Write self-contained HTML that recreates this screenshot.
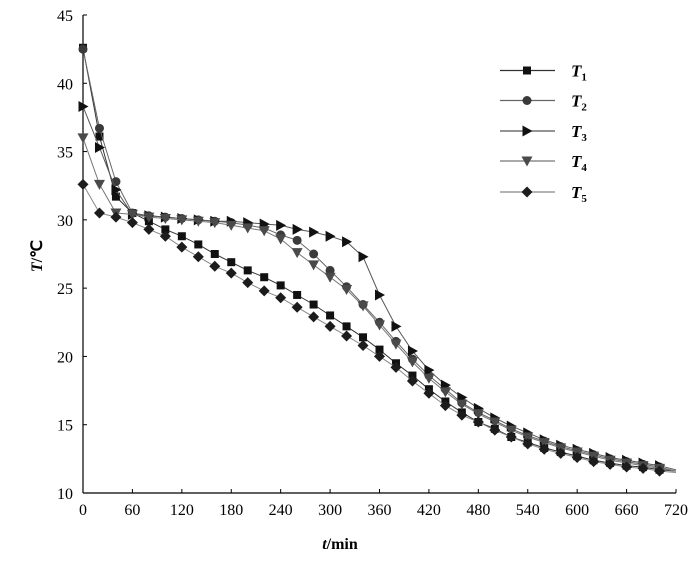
<!DOCTYPE html>
<html><head><meta charset="utf-8"><style>
body{margin:0;background:#fff;}
svg{display:block;font-family:"Liberation Serif",serif;}
</style></head><body>
<svg id="chart" width="700" height="568" viewBox="0 0 700 568" xmlns="http://www.w3.org/2000/svg">
<g id="axes"></g>
<g id="series"></g>
<g id="legend"></g>
<text transform="translate(42,256) rotate(-90)" text-anchor="middle" font-size="16" font-weight="bold"><tspan font-style="italic">T</tspan>/℃</text>
<text x="340" y="549" text-anchor="middle" font-size="16" font-weight="bold"><tspan font-style="italic">t</tspan>/min</text>
</svg>
<script>
const times = [0,20,40,60,80,100,120,140,160,180,200,220,240,260,280,300,320,340,360,380,400,420,440,460,480,500,520,540,560,580,600,620,640,660,680,700,720];
const t1 = [42.6,36.1,31.7,30.5,29.9,29.3,28.8,28.2,27.5,26.9,26.3,25.8,25.2,24.5,23.8,23.0,22.2,21.4,20.5,19.5,18.6,17.6,16.7,15.9,15.2,14.7,14.1,13.7,13.3,13.0,12.7,12.4,12.2,12.0,11.9,11.7,11.6];
const t2 = [42.5,36.7,32.8,30.5,30.3,30.2,30.1,30.0,29.9,29.8,29.6,29.4,28.9,28.5,27.5,26.3,25.1,23.8,22.5,21.1,19.8,18.6,17.6,16.6,15.9,15.3,14.7,14.2,13.8,13.4,13.1,12.8,12.5,12.3,12.1,11.9,11.6];
const t3 = [38.3,35.3,32.2,30.4,30.3,30.2,30.1,30.0,29.9,29.9,29.8,29.7,29.6,29.3,29.1,28.8,28.4,27.3,24.5,22.2,20.4,19.0,17.9,17.0,16.2,15.5,14.9,14.4,13.9,13.5,13.2,12.9,12.6,12.4,12.2,12.0,11.7];
const t4 = [36.0,32.6,30.5,30.4,30.2,30.1,30.0,29.9,29.8,29.6,29.4,29.2,28.6,27.6,26.7,25.8,24.9,23.7,22.3,20.9,19.6,18.4,17.4,16.5,15.8,15.2,14.6,14.1,13.7,13.3,13.0,12.7,12.4,12.2,12.0,11.8,11.6];
const t5 = [32.6,30.5,30.2,29.8,29.3,28.8,28.0,27.3,26.6,26.1,25.4,24.8,24.3,23.6,22.9,22.2,21.5,20.8,20.0,19.2,18.2,17.3,16.4,15.7,15.2,14.6,14.1,13.6,13.2,12.9,12.6,12.3,12.1,11.9,11.8,11.6,11.5];
const xTicks = [0,60,120,180,240,300,360,420,480,540,600,660,720];
const yTicks = [10,15,20,25,30,35,40,45];
const seriesNames = ["T1","T2","T3","T4","T5"];

const NS="http://www.w3.org/2000/svg";
const X0=83,X1=676,Y0=493,Y1=15;
const xs=t=>X0+(t-0)/(720-0)*(X1-X0);
const ys=v=>Y0-(v-10)/(45-10)*(Y0-Y1);
function mk(tag,attrs,parent){const e=document.createElementNS(NS,tag);for(const k in attrs)e.setAttribute(k,attrs[k]);parent.appendChild(e);return e;}
const axes=document.getElementById('axes');
let a=mk('line',{x1:X0,y1:Y0,x2:X1,y2:Y0,stroke:'#000','stroke-width':1.2},axes);


a=mk('line',{x1:X0,y1:Y0,x2:X0,y2:Y1,stroke:'#000','stroke-width':1.2},axes);


xTicks.forEach(t=>{
  const x=xs(t);
  mk('line',{x1:x,y1:Y0,x2:x,y2:Y0-4,stroke:'#000'},axes);
  const tx=mk('text',{x:x,y:Y0+22,'text-anchor':'middle','font-size':16},axes);
  tx.textContent=t;
  
  
});
yTicks.forEach(v=>{
  const y=ys(v);
  mk('line',{x1:X0,y1:y,x2:X0+4,y2:y,stroke:'#000'},axes);
  const tx=mk('text',{x:X0-10,y:y+6,'text-anchor':'end','font-size':16},axes);
  tx.textContent=v;
  
  
});
function marker(type,x,y,col,parent){
  let e;
  if(type==='sq') e=mk('rect',{x:x-4,y:y-4,width:8,height:8,fill:col},parent);
  else if(type==='ci') e=mk('circle',{cx:x,cy:y,r:4.5,fill:col},parent);
  else if(type==='rt') e=mk('polygon',{points:`${x-4.5},${y-5.5} ${x+5.5},${y} ${x-4.5},${y+5.5}`,fill:col},parent);
  else if(type==='dn') e=mk('polygon',{points:`${x-5.5},${y-4.5} ${x+5.5},${y-4.5} ${x},${y+5.5}`,fill:col},parent);
  else e=mk('polygon',{points:`${x},${y-5.5} ${x+5.5},${y} ${x},${y+5.5} ${x-5.5},${y}`,fill:col},parent);
  return e;
}
const data=[t1,t2,t3,t4,t5];
const types=['sq','ci','rt','dn','di'];
const cols=['#111','#3a3a3a','#111','#4a4a4a','#1c1c1c'];
const lineCols=['#333','#666','#555','#777','#888'];
const sg=document.getElementById('series');
data.forEach((vals,i)=>{
  const g=mk('g',{},sg);
  
  
  const pts=times.map((t,j)=>xs(t).toFixed(1)+','+ys(vals[j]).toFixed(1)).join(' ');
  const pl=mk('polyline',{points:pts,fill:'none',stroke:lineCols[i],'stroke-width':1},g);
  
  
  times.forEach((t,j)=>{
    if(t>=720) return;
    const m=marker(types[i],xs(t),ys(vals[j]),cols[i],g);
    
    
  });
});
const lg=document.getElementById('legend');
const rows=[70.5,100.5,131,161,192];
seriesNames.forEach((n,i)=>{
  const g=mk('g',{},lg);
  
  
  mk('line',{x1:500,y1:rows[i],x2:555,y2:rows[i],stroke:lineCols[i],'stroke-width':1.2},g);
  marker(types[i],527,rows[i],cols[i],g);
  const tx=mk('text',{x:571,y:rows[i]+6,'font-size':17,'font-weight':'bold','font-style':'italic'},g);
  tx.textContent='T';
  const sub=mk('tspan',{'font-size':11,dy:4,'font-style':'normal'},tx);
  sub.textContent=n.slice(1);
});
</script>
</body></html>
